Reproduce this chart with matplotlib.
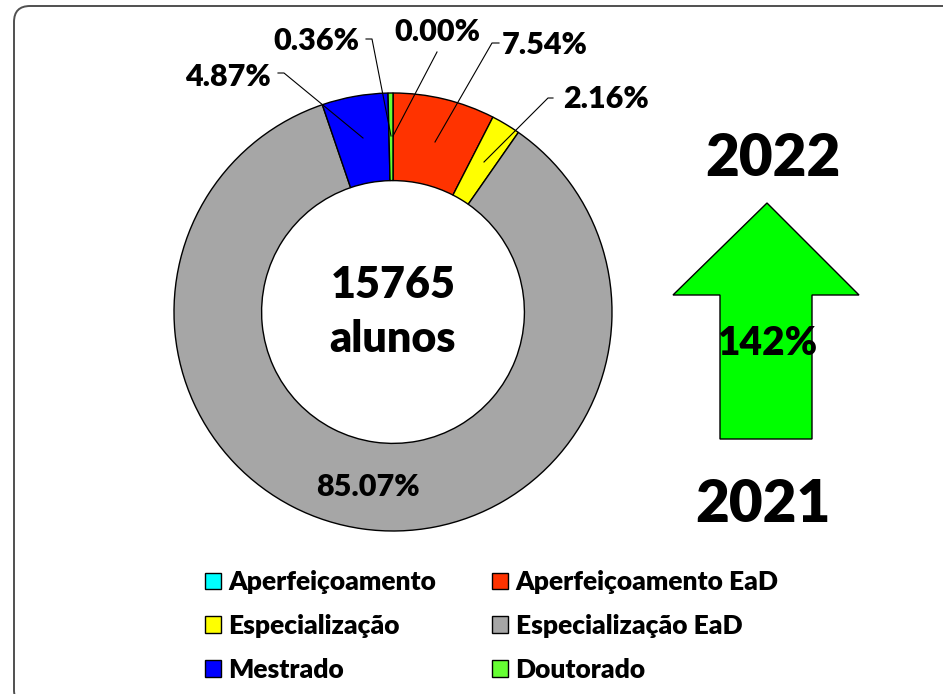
import matplotlib.pyplot as plt
from matplotlib.patches import FancyBboxPatch, Polygon

plt.rcParams['font.family'] = ['Lato', 'DejaVu Sans']
PESO = 'heavy'

# data
categorias = ['Aperfeiçoamento', 'Aperfeiçoamento EaD', 'Especialização',
              'Especialização EaD', 'Mestrado', 'Doutorado']
percentuais = [0.00, 7.54, 2.16, 85.07, 4.87, 0.36]
cores = ['#00FFFF', '#FF3300', '#FFFF00', '#A6A6A6', '#0000FF', '#66FF33']
total_alunos = 15765
crescimento = '142%'
ano_inicio, ano_fim = '2021', '2022'

W, H = 943, 694
fig = plt.figure(figsize=(W / 100, H / 100), dpi=100)
ax = fig.add_axes([0, 0, 1, 1])

# frame (runs off the right and bottom edges like the reference)
ax.add_patch(FancyBboxPatch((14, -12), 960, H - 6 + 12,
                            boxstyle='round,pad=0,rounding_size=16',
                            fc='none', ec='#505050', lw=1.4, clip_on=False))

cx, cy, r = 393, H - 312, 219
wedges, _ = ax.pie(percentuais, colors=cores, startangle=90, counterclock=False,
                   radius=r, center=(cx, cy), frame=True,
                   wedgeprops=dict(width=r * 0.4, edgecolor='black', linewidth=1))
ax.set_xlim(0, W)
ax.set_ylim(0, H)
ax.set_aspect('equal')
ax.axis('off')

# labels with leader lines (text pos, elbow, start, end) in pixel coords from top
rotulos = [
    ((437, 32), None, (437, 52), (393, 136)),
    ((545, 45), (492, 43), (499, 43), (435, 142)),
    ((606, 99), (548, 98), (553, 98), (484, 162)),
    (None, None, None, None),
    ((228, 77), (284, 73), (278, 73), (363, 138)),
    ((316, 41), (372, 39), (366, 39), (391, 136)),
]
for p, (txt, elbow, start, end) in zip(percentuais, rotulos):
    if txt is None:
        continue
    ax.text(txt[0], H - txt[1], f'{p:.2f}%', ha='center', va='center',
            fontsize=22, fontweight=PESO)
    xs = [start[0]] + ([elbow[0]] if elbow else []) + [end[0]]
    ys = [start[1]] + ([elbow[1]] if elbow else []) + [end[1]]
    ax.plot(xs, [H - y for y in ys], color='black', lw=0.8)

ax.text(368, H - 487, f'{percentuais[3]:.2f}%', ha='center', va='center',
        fontsize=22, fontweight=PESO)

ax.text(cx, cy, f'{total_alunos}\nalunos', ha='center', va='center',
        fontsize=31, fontweight=PESO, linespacing=1.45)

# arrow
seta = [(767, 203), (859, 295), (812, 295), (812, 439), (720, 439),
        (720, 295), (673, 295)]
ax.add_patch(Polygon([(x, H - y) for x, y in seta], closed=True,
                     fc='#00FF00', ec='black', lw=1))
ax.text(767, H - 343, crescimento, ha='center', va='center',
        fontsize=28, fontweight=PESO)
ax.text(773, H - 158, ano_fim, ha='center', va='center',
        fontsize=42, fontweight=PESO)
ax.text(763, H - 505, ano_inicio, ha='center', va='center',
        fontsize=42, fontweight=PESO)

# legend (row-wise order across 2 columns)
ordem = [0, 2, 4, 1, 3, 5]
leg = fig.legend([wedges[i] for i in ordem], [categorias[i] for i in ordem],
                 ncol=2, loc='center left', bbox_to_anchor=(181 / W, 1 - 626 / H),
                 frameon=False, handlelength=0.6, handleheight=0.6,
                 handletextpad=0.3, columnspacing=2.1, labelspacing=0.75,
                 prop=dict(weight=PESO, size=19))

fig.savefig('out.png', dpi=100)
